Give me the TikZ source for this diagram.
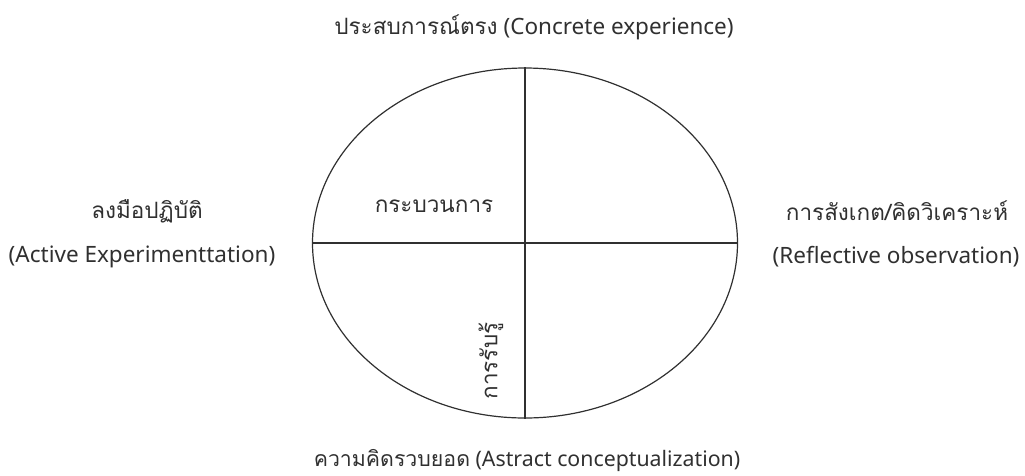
\documentclass[tikz,border=0pt]{standalone}
\usepackage{fontspec}
\setmainfont{Noto Sans}
\newfontfamily\thai[Script=Thai]{Loma}
\usetikzlibrary{shapes.geometric}
\definecolor{txt}{HTML}{303030}
\definecolor{ln}{HTML}{303030}
\tikzset{
  lbl/.style={inner sep=0pt, text=txt, font=\fontsize{22.5}{26}\selectfont},
  ring/.style={ellipse, draw=ln, line width=1.2pt, minimum width=425pt, minimum height=350pt, inner sep=0pt},
  cut/.style={draw=ln, line width=1.2pt}
}
\begin{document}
\begin{tikzpicture}[x=1pt,y=-1pt]
\useasboundingbox (0,0) rectangle (1025,475);
\node[ring] (E) at (525,243) {};
\draw[cut] (E.north) -- (E.south);
\draw[cut] (E.west) -- (E.east);
\node[lbl] (top) at (534,27) {{\thai ประสบการณ์ตรง} (Concrete experience)};
\node[lbl] (l1) at (147,211) {\thai ลงมือปฏิบัติ};
\node[lbl] (l2) at (142,257) {(Active Experimenttation)};
\node[lbl] (r1) at (897,211) {\thai การสังเกต/คิดวิเคราะห์};
\node[lbl] (r2) at (896,257) {(Reflective observation)};
\node[lbl, font=\fontsize{21.3}{25}\selectfont] (bot) at (527,460) {{\thai ความคิดรวบยอด} (Astract conceptualization)};
\node[lbl] (proc) at (434,206) {\thai กระบวนการ};
\node[lbl, rotate=90] (perc) at (491,361) {\thai การรับรู้};
\end{tikzpicture}
\end{document}
